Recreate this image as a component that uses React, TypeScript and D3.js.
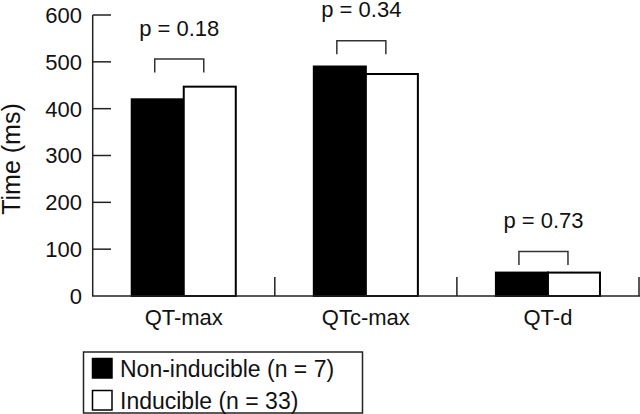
import React from "react";
import * as d3 from "d3";

const categories = ["QT-max", "QTc-max", "QT-d"];
const seriesNames = ["Non-inducible (n = 7)", "Inducible (n = 33)"];
const nonInducible = [420, 490, 50];
const inducible = [447, 474, 50];
const pLabels = ["p = 0.18", "p = 0.34", "p = 0.73"];
const bracketLevels = [506, 545, 95];
const yTicks = [0, 100, 200, 300, 400, 500, 600];

const W = 640;
const H = 414;
const FONT = "'Liberation Sans', Arial, Helvetica, sans-serif";

export default function App() {
  const x0 = d3.scaleBand<string>().domain(categories).range([92.7, 639]).paddingInner(0).paddingOuter(0);
  const x1 = d3.scaleBand<string>().domain(seriesNames).range([0, x0.bandwidth()]).paddingInner(0).paddingOuter(0.75);
  const y = d3.scaleLinear().domain([0, 600]).range([296, 15]);
  const bw = x1.bandwidth();
  const series = [nonInducible, inducible];
  const fills = ["#000", "#fff"];

  return (
    <svg width={W} height={H} style={{ position: "absolute", left: 0, top: 0, background: "#fff" }} fontFamily={FONT}>
      <rect x={0} y={0} width={W} height={H} fill="#fff" />
      {/* bars */}
      {categories.map((c, i) =>
        seriesNames.map((s, j) => {
          const xx = (x0(c) as number) + (x1(s) as number);
          const v = series[j][i];
          return (
            <rect
              key={c + s}
              x={xx}
              y={y(v)}
              width={bw}
              height={y(0) - y(v)}
              fill={fills[j]}
              stroke="#000"
              strokeWidth={2}
            />
          );
        })
      )}
      {/* y axis */}
      <line x1={92.7} x2={92.7} y1={y(600)} y2={y(0)} stroke="#222" strokeWidth={1.5} />
      {yTicks.map((t) => (
        <g key={t}>
          {t > 0 && <line x1={92.7} x2={111} y1={y(t)} y2={y(t)} stroke="#222" strokeWidth={1.5} />}
          <text x={82} y={y(t)} dy="0.36em" textAnchor="end" fontSize={22} fill="#111">
            {t}
          </text>
        </g>
      ))}
      {/* x axis */}
      <line x1={92} x2={640} y1={y(0)} y2={y(0)} stroke="#222" strokeWidth={1.5} />
      {categories.map((c) => {
        const xe = (x0(c) as number) + x0.bandwidth();
        return <line key={"t" + c} x1={xe} x2={xe} y1={y(0)} y2={y(0) - 19} stroke="#222" strokeWidth={1.5} />;
      })}
      {categories.map((c) => (
        <text key={"l" + c} x={(x0(c) as number) + x0.bandwidth() / 2} y={324.5} textAnchor="middle" fontSize={22} fill="#111">
          {c}
        </text>
      ))}
      {/* brackets and p values */}
      {categories.map((c, i) => {
        const bx = x0(c) as number;
        const xa = bx + (x1(seriesNames[0]) as number) + bw / 2 - 3;
        const xb = bx + (x1(seriesNames[1]) as number) + bw / 2 - 6;
        const top = y(bracketLevels[i]);
        const bot = top + 13.5;
        return (
          <g key={"b" + c}>
            <path d={`M${xa},${bot}V${top}H${xb}V${bot}`} fill="none" stroke="#333" strokeWidth={1.5} />
            <text x={(xa + xb) / 2} y={top - 23.5} textAnchor="middle" fontSize={22} fill="#111">
              {pLabels[i]}
            </text>
          </g>
        );
      })}
      {/* y label */}
      <text transform="translate(19.5,159) rotate(-90)" textAnchor="middle" fontSize={25} fill="#111">
        Time (ms)
      </text>
      {/* legend */}
      <rect x={83.5} y={352} width={279} height={61} fill="#fff" stroke="#222" strokeWidth={1.5} />
      {seriesNames.map((s, j) => (
        <g key={"lg" + s}>
          <rect x={92.5} y={358.5 + j * 32} width={19.5} height={19.5} fill={fills[j]} stroke="#000" strokeWidth={1.5} />
          <text x={120} y={377 + j * 32} fontSize={23} fill="#111">
            {s}
          </text>
        </g>
      ))}
    </svg>
  );
}
